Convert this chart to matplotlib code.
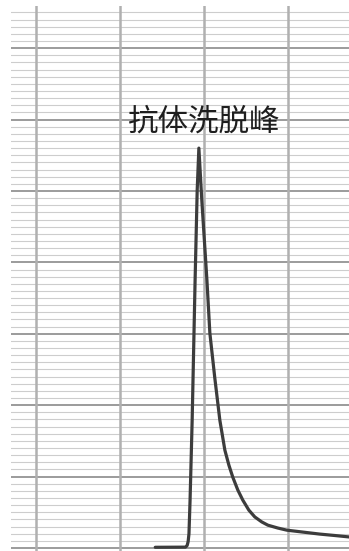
import matplotlib.pyplot as plt

plt.rcParams['font.family'] = ['Noto Sans CJK SC', 'DejaVu Sans']

# Elution trace (x: min, y: chart divisions)
time_min = [24.2, 27.8, 28.0, 28.12, 28.22, 28.35, 28.6, 28.95, 29.2,
            29.4, 29.75, 30.36, 30.71, 31.3, 31.9, 32.5, 32.98, 33.45,
            34.05, 34.64, 35.36, 36.07, 36.9, 37.62, 38.8, 39.88, 42.0,
            43.8, 45.6, 47.3]
signal = [0.1, 0.12, 0.35, 0.9, 2.0, 6.7, 17.9, 37.5, 50.1,
          56.0, 48.7, 37.5, 30.1, 23.8, 17.9, 13.7, 11.6, 9.9,
          8.1, 6.7, 5.3, 4.35, 3.65, 3.2, 2.8, 2.5, 2.2,
          1.95, 1.75, 1.55]
peak_label = '抗体洗脱峰'
peak_label_pos = (29.9, 59.6)

x_min, x_max = 7.0, 47.3
y_min, y_max = -0.42, 75.9
v_grid = [10, 20, 30, 40]

fig = plt.figure(figsize=(3.49, 5.51), dpi=100)
ax = fig.add_axes([11 / 349, 0, 1 - 11 / 349, 1 - 6 / 551])

# Chart paper: fine rulings every division, heavier ones every ten
for level in range(0, 76):
    if level % 10 == 0:
        ax.axhline(level, color='#808080', lw=1.1, zorder=1)
    else:
        ax.axhline(level, color='#cdcdcd', lw=0.8, zorder=1)
for xv in v_grid:
    ax.axvline(xv, color='#b0b0b0', lw=1.8, zorder=1)

# Recorder trace
ax.plot(time_min, signal, color='#3c3c3c', lw=2.3, solid_joinstyle='round',
        solid_capstyle='round', zorder=3)

ax.text(peak_label_pos[0], peak_label_pos[1], peak_label, fontsize=22,
        color='#1e1e1e', ha='center', va='center', zorder=4)

ax.set_xlim(x_min, x_max)
ax.set_ylim(y_min, y_max)
ax.axis('off')

fig.savefig('out.png', dpi=100)
